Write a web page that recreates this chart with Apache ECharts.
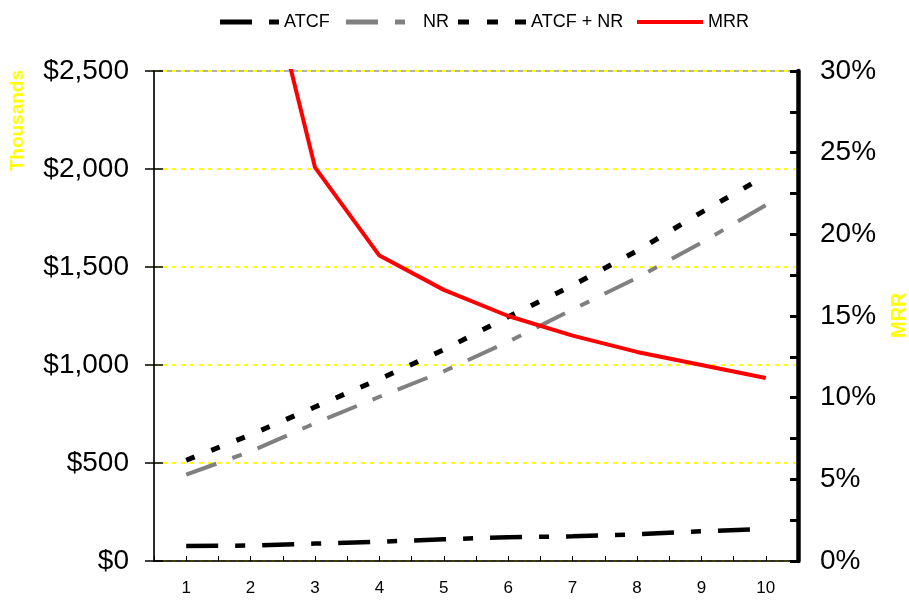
<!DOCTYPE html>
<html>
<head>
<meta charset="utf-8">
<script src="https://cdn.jsdelivr.net/npm/echarts@6/dist/echarts.min.js"></script>
<style>
  html, body { margin: 0; padding: 0; background: #fff; }
  #chart { width: 909px; height: 600px; }
</style>
</head>
<body>
<div id="chart"></div>
<script>
// Years of the holding period
const years = ['1', '2', '3', '4', '5', '6', '7', '8', '9', '10'];
// After-tax cash flow, thousands of dollars
const atcf = [76, 79, 89, 98, 111, 121, 126, 136, 152, 163];
// Net reversion, thousands of dollars
const nr = [441, 559, 703, 838, 968, 1119, 1283, 1445, 1624, 1816];
// ATCF + NR, thousands of dollars
const atcfNr = [514, 644, 786, 928, 1078, 1246, 1406, 1582, 1779, 1966];
// Modified rate of return, percent (year 1 lies above the axis range)
const mrr = [null, 40.1, 24.1, 18.7, 16.6, 15.0, 13.8, 12.8, 12.0, 11.2];

const leftTicks = { min: 0, max: 2500, interval: 500 };
const rightTicks = { min: 0, max: 30, interval: 5 };

const font = 'Liberation Sans, Arial, sans-serif';
const chart = echarts.init(document.getElementById('chart'), null, { renderer: 'canvas' });

// One legend block per series so each key can carry its own dash pattern
const legendText = { fontFamily: font, fontSize: 18, color: '#000' };
function legendBlock(name, left, icon, w, h, extra) {
  return Object.assign({
    data: [name], left: left, top: 8, icon: icon,
    itemWidth: w, itemHeight: h, itemGap: 0, selectedMode: false,
    symbolKeepAspect: false,
    textStyle: Object.assign({}, legendText)
  }, extra || {});
}

chart.setOption({
  animation: false,
  backgroundColor: '#ffffff',
  textStyle: { fontFamily: font },
  legend: [
    legendBlock('ATCF', 215, 'path://M0,0H32V5H0Z M49,0H59V5H49Z', 59, 5),
    legendBlock('NR', 341, 'path://M0,0H32V5H0Z M49,0H59V5H49Z', 59, 5,
      { textStyle: Object.assign({}, legendText, { padding: [0, 0, 0, 13] }) }),
    legendBlock('ATCF + NR', 453, 'path://M0,0H11V5H0Z M29,0H40V5H29Z M57,0H68V5H57Z', 68, 5),
    legendBlock('MRR', 632, 'rect', 66, 4)
  ],
  grid: {
    left: 154, right: 111, top: 71, bottom: 39,
    show: true, borderColor: '#999999', borderWidth: 1.5, backgroundColor: 'transparent'
  },
  xAxis: [
    {
      type: 'category',
      data: years,
      boundaryGap: true,
      axisLine: { lineStyle: { color: '#000', width: 1.5 } },
      axisTick: { show: true, inside: true, alignWithLabel: true, length: 5, lineStyle: { color: '#000', width: 1 } },
      axisLabel: { color: '#000', fontSize: 17, margin: 19, fontFamily: font },
      splitLine: { show: false }
    },
    {
      type: 'category',
      data: years,
      boundaryGap: true,
      position: 'bottom',
      axisLine: { show: false },
      axisTick: { show: true, inside: true, length: 5, lineStyle: { color: '#000', width: 1 } },
      axisLabel: { show: false },
      splitLine: { show: false }
    }
  ],
  yAxis: [
    {
      type: 'value',
      position: 'left',
      min: leftTicks.min, max: leftTicks.max, interval: leftTicks.interval,
      axisLine: { show: true, lineStyle: { color: '#000', width: 1.5 } },
      axisTick: { show: true, length: 9, lineStyle: { color: '#000', width: 1.5 } },
      axisLabel: {
        color: '#000', fontSize: 28, margin: 25, fontFamily: font,
        formatter: v => '$' + v.toLocaleString('en-US')
      },
      splitLine: { show: true, lineStyle: { color: '#ffff00', width: 2, type: [4, 5] } }
    },
    {
      type: 'value',
      position: 'right',
      min: rightTicks.min, max: rightTicks.max, interval: rightTicks.interval,
      axisLine: { show: true, lineStyle: { color: '#000', width: 4.5 } },
      axisTick: { show: true, inside: true, length: 8, lineStyle: { color: '#000', width: 3 } },
      minorTick: { show: true, splitNumber: 2, length: 8, lineStyle: { color: '#000', width: 3 } },
      axisLabel: { color: '#000', fontSize: 28, margin: 22, fontFamily: font, formatter: '{value}%' },
      splitLine: { show: false }
    },
    {
      // inner half of the left-axis cross ticks
      type: 'value',
      position: 'left',
      min: leftTicks.min, max: leftTicks.max, interval: leftTicks.interval,
      axisLine: { show: false },
      axisTick: { show: true, inside: true, length: 9, lineStyle: { color: '#000', width: 1.5 } },
      axisLabel: { show: false },
      splitLine: { show: false }
    }
  ],
  series: [
    {
      name: 'ATCF', type: 'line', data: atcf, yAxisIndex: 0, symbol: 'none',
      itemStyle: { color: '#000' },
      lineStyle: { color: '#000', width: 4.5, type: [32, 17, 10, 17] }
    },
    {
      name: 'NR', type: 'line', data: nr, yAxisIndex: 0, symbol: 'none',
      itemStyle: { color: '#808080' },
      lineStyle: { color: '#808080', width: 4, type: [32, 17, 10, 17] }
    },
    {
      name: 'ATCF + NR', type: 'line', data: atcfNr, yAxisIndex: 0, symbol: 'none',
      itemStyle: { color: '#000' },
      lineStyle: { color: '#000', width: 5, type: [9, 18] }
    },
    {
      name: 'MRR', type: 'line', data: mrr, yAxisIndex: 1, symbol: 'none',
      itemStyle: { color: '#ff0000' }, clip: true, connectNulls: false,
      lineStyle: { color: '#ff0000', width: 4 }
    }
  ],
  graphic: [
    {
      type: 'text',
      left: 8, top: 70,
      rotation: Math.PI / 2,
      originX: 0, originY: 0,
      style: { text: 'Thousands', fill: '#ffff00', font: 'bold 19px ' + font }
    },
    {
      type: 'text',
      x: 889, y: 338,
      rotation: Math.PI / 2,
      style: { text: 'MRR', fill: '#ffff00', font: 'bold 20px ' + font }
    }
  ]
});
</script>
</body>
</html>
